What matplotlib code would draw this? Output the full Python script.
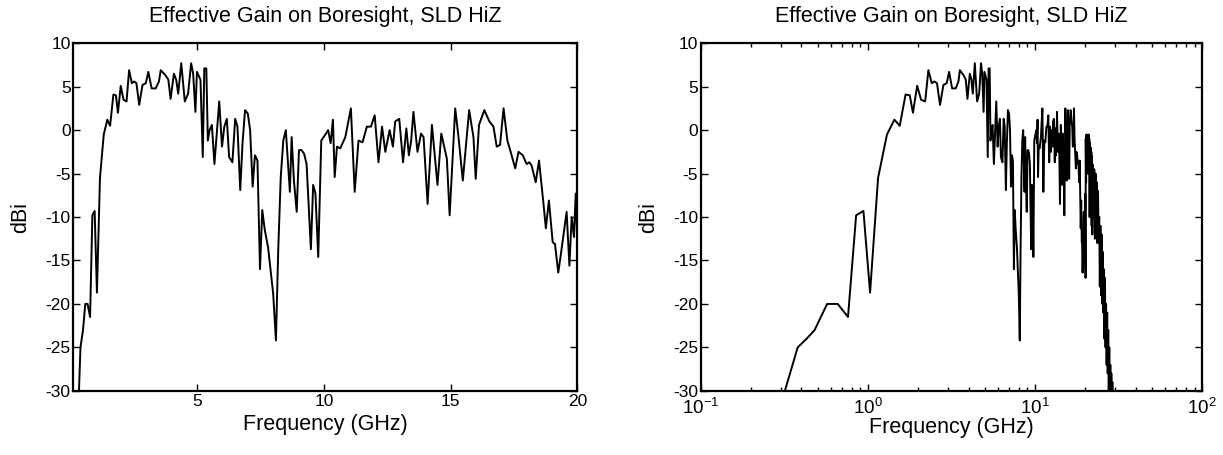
import matplotlib
matplotlib.use("Agg")
import matplotlib.pyplot as plt
import numpy as np

plt.rcParams['font.family'] = ['Liberation Sans', 'DejaVu Sans']
plt.rcParams['mathtext.fontset'] = 'custom'
plt.rcParams['mathtext.rm'] = 'Liberation Sans'
plt.rcParams['mathtext.default'] = 'regular'
plt.rcParams['axes.unicode_minus'] = False

# frequency (GHz) and effective gain (dBi)
freq_ghz = [
    0.10, 0.20, 0.30, 0.38, 0.43, 0.48, 0.57, 0.66, 0.76, 0.85,
    0.94, 1.03, 1.15, 1.30, 1.44, 1.55, 1.68, 1.78, 1.86, 1.97,
    2.08, 2.20, 2.30, 2.41, 2.50, 2.59, 2.70, 2.83, 2.96, 3.06,
    3.19, 3.35, 3.48, 3.55, 3.74, 3.85, 3.94, 4.07, 4.16, 4.24,
    4.36, 4.50, 4.63, 4.75, 4.83, 4.92, 4.98, 5.12, 5.21, 5.27,
    5.35, 5.41, 5.48, 5.57, 5.67, 5.74, 5.86, 5.97, 6.06, 6.16,
    6.25, 6.38, 6.49, 6.58, 6.69, 6.78, 6.88, 6.99, 7.08, 7.18,
    7.27, 7.37, 7.47, 7.56, 7.66, 7.79, 7.99, 8.10, 8.19, 8.29,
    8.39, 8.49, 8.58, 8.65, 8.72, 8.81, 8.92, 9.01, 9.11, 9.21,
    9.31, 9.48, 9.57, 9.66, 9.77, 9.89, 10.03, 10.16, 10.26, 10.35,
    10.42, 10.51, 10.64, 10.84, 11.06, 11.21, 11.36, 11.52, 11.69, 11.85,
    12.00, 12.15, 12.29, 12.42, 12.59, 12.72, 12.81, 12.97, 13.12, 13.25,
    13.35, 13.44, 13.53, 13.69, 13.83, 13.93, 14.09, 14.26, 14.48, 14.63,
    14.85, 14.96, 15.18, 15.31, 15.48, 15.73, 15.90, 15.99, 16.12, 16.33,
    16.53, 16.69, 16.82, 16.95, 17.09, 17.24, 17.35, 17.55, 17.68, 17.85,
    18.00, 18.11, 18.20, 18.36, 18.49, 18.66, 18.76, 18.88, 19.03, 19.12,
    19.25, 19.38, 19.58, 19.69, 19.78, 19.87, 19.94, 20.05, 20.10, 20.20,
    20.30, 20.40, 20.50, 20.60, 20.70, 20.80, 20.90, 21.00, 21.10, 21.20,
    21.30, 21.40, 21.50, 21.60, 21.70, 21.80, 21.90, 22.00, 22.20, 22.40,
    22.60, 22.80, 23.00, 23.20, 23.40, 23.60, 23.80, 24.00, 24.20, 24.40,
    24.60, 24.80, 25.00, 25.20, 25.40, 25.60, 25.80, 26.00, 26.20, 26.40,
    26.60, 26.80, 27.00, 27.20, 27.40, 27.60, 27.80, 28.00, 28.20, 28.40,
    28.60, 28.80, 29.00, 29.20, 29.40, 29.60, 29.80, 30.00,
]
gain_dbi = [
    -40.0, -35.0, -31.7, -25.0, -24.0, -23.0, -20.0, -20.0, -21.5, -9.8,
    -9.3, -18.7, -5.5, -0.5, 1.2, 0.5, 4.1, 4.0, 2.0, 5.1,
    3.5, 3.3, 6.9, 5.4, 5.6, 5.4, 2.9, 5.2, 5.4, 6.7,
    4.8, 4.8, 5.6, 6.9, 6.3, 5.8, 3.6, 6.5, 5.8, 4.2,
    7.7, 3.3, 4.2, 7.7, 6.5, 2.1, 6.7, 5.8, -3.1, 7.1,
    7.1, -1.2, 0.0, 0.6, -3.9, -1.2, 3.3, -1.9, 0.4, 1.3,
    -3.1, -3.7, 1.3, 0.4, -6.9, -1.5, 2.3, 1.9, 0.0, -6.5,
    -2.9, -3.5, -16.0, -9.2, -11.5, -13.5, -18.8, -24.2, -13.8, -5.4,
    -1.2, 0.0, -3.9, -7.1, -0.8, -5.8, -9.4, -2.3, -2.3, -2.7,
    -3.9, -13.7, -6.3, -7.3, -14.6, -1.2, -0.6, 0.0, -1.5, 1.2,
    -5.4, -1.9, -2.1, -0.8, 2.5, -7.1, -1.2, -1.4, 0.4, 0.4,
    1.7, -3.7, 0.4, -2.5, 0.0, -1.9, 1.0, 1.3, -3.7, 0.2,
    -2.9, -1.2, 2.1, -2.5, -0.4, -0.8, -8.5, 0.6, -6.3, -0.4,
    -3.3, -9.8, 2.5, -0.8, -5.8, 2.3, -0.8, -5.6, 0.6, 2.3,
    1.0, 0.4, -1.9, -1.7, 2.5, -1.2, -2.3, -4.4, -2.5, -2.9,
    -3.9, -3.7, -4.1, -6.0, -3.5, -8.3, -11.3, -8.1, -12.9, -13.1,
    -16.4, -13.7, -9.4, -15.6, -10.0, -12.3, -7.3, -17.0, -1.0, -6.0,
    -0.5, -4.0, -0.6, -5.0, -1.0, -3.0, -0.5, -5.0, -1.0, -10.0,
    -1.5, -6.0, -2.0, -7.0, -2.5, -11.0, -3.0, -12.0, -4.0, -10.0,
    -4.5, -12.5, -5.0, -12.0, -6.0, -13.0, -7.0, -12.5, -10.0, -18.0,
    -11.0, -19.0, -12.0, -20.0, -14.0, -21.0, -16.0, -24.0, -17.0, -25.0,
    -20.0, -27.0, -21.0, -28.0, -23.0, -30.0, -25.0, -31.0, -27.0, -32.0,
    -28.0, -34.0, -29.0, -35.0, -30.0, -36.0, -32.0, -38.0,
]

title_text = "Effective Gain on Boresight, SLD HiZ"
y_ticks = [-30, -25, -20, -15, -10, -5, 0, 5, 10]

fig = plt.figure(figsize=(12.23, 4.55), dpi=100)
ax1 = fig.add_axes([0.060, 0.141, 0.412, 0.764])
ax2 = fig.add_axes([0.573, 0.141, 0.410, 0.764])

for ax in (ax1, ax2):
    ax.plot(freq_ghz, gain_dbi, color='black', linewidth=1.4)
    ax.set_ylim(-30, 10)
    ax.set_yticks(y_ticks)
    ax.set_title(title_text, fontsize=15.5, pad=15)
    ax.set_xlabel("Frequency (GHz)", fontsize=15.5)
    ax.set_ylabel("dBi", fontsize=15.5)
    ax.xaxis.set_label_coords(0.5, -0.066, transform=ax.transAxes)
    ax.yaxis.set_label_coords(-0.083, 0.5, transform=ax.transAxes)
    ax.tick_params(which='both', direction='in', top=True, right=True,
                   labelsize=12.5, width=1.0)
    ax.tick_params(axis='y', pad=2)
    ax.tick_params(which='major', length=5)
    ax.tick_params(which='minor', length=3)
    for s in ax.spines.values():
        s.set_linewidth(1.6)

ax1.set_xlim(0.1, 20)
ax1.set_xticks([5, 10, 15, 20])
ax1.tick_params(axis='x', pad=2)

ax2.set_xscale('log')
ax2.set_xlim(0.1, 100)
ax2.tick_params(axis='x', pad=5, labelsize=13.5)
ax2.xaxis.set_label_coords(0.5, -0.074, transform=ax2.transAxes)

fig.savefig("out.png", dpi=100)
